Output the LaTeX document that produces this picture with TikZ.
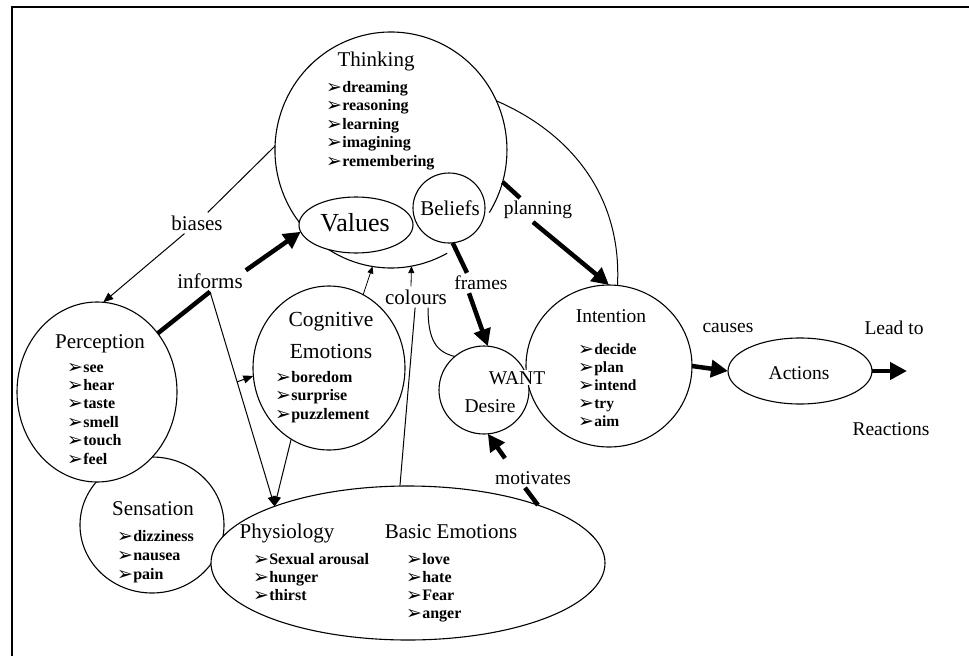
\documentclass[tikz,border=0pt]{standalone}
\usepackage{fontspec}
\setmainfont{Liberation Serif}
\newfontfamily\symfont{DejaVu Sans}
\usetikzlibrary{shapes.geometric,arrows.meta,calc}
\newcommand{\bl}{\smash{\raisebox{-1pt}{\symfont\fontsize{19}{19}\selectfont ➢}}\kern0.2pt}
\newcommand{\blist}[1]{\begin{tabular}[t]{@{}l@{}}#1\end{tabular}}
\begin{document}
\begin{tikzpicture}[x=1pt,y=-1pt,
  ell/.style={draw, ellipse, inner sep=0pt, outer sep=0pt, line width=1.1pt},
  outline/.style={line width=1.1pt},
  head/.style={anchor=base, inner sep=0pt, font=\fontsize{21}{21}\selectfont},
  headr/.style={anchor=base, inner sep=0pt, font=\fontsize{19.5}{19.5}\selectfont},
  lab/.style={fill=white, inner sep=3pt, font=\fontsize{21}{21}\selectfont},
  labr/.style={fill=white, inner sep=3pt, font=\fontsize{19.5}{19.5}\selectfont},
  bullets/.style={anchor=base west, inner sep=0pt, font=\bfseries\fontsize{16}{18.5}\selectfont},
  thinline/.style={line width=1pt},
  thinarr/.style={line width=1pt, -{Triangle[length=10pt,width=8pt]}},
  smallarr/.style={line width=0.8pt, -{Triangle[length=7pt,width=6pt]}},
  boldline/.style={line width=4.5pt},
  boldarr/.style={line width=4.5pt, -{Triangle[length=17pt,width=17pt]}}
]
\useasboundingbox (0,0) rectangle (969,656);
% frame
\draw[line width=1.8pt] (12,656) -- (12,7) -- (969,7);

% ellipses
\node[ell, minimum width=144, minimum height=136] (sens) at (152,525) {};
\node[ell, fill=white, minimum width=394, minimum height=154] (phys) at (408,563) {};
\node[ell, fill=white, minimum width=160, minimum height=180] (perc) at (97,392) {};
\node[ell, minimum width=152, minimum height=164] (cog) at (329,368) {};
\node[ellipse, inner sep=0pt, outer sep=0pt, minimum width=232, minimum height=236] (think) at (391,150) {};
\draw[outline] (think.center) ++(56.2,103.2) arc[start angle=61, end angle=392, x radius=116, y radius=118];
\node[ell, fill=white, minimum width=114, minimum height=56] (values) at (356,225) {};
\node[ell, fill=white, minimum width=72, minimum height=70] (beliefs) at (449,208) {};
\node[ell, minimum width=90, minimum height=88] (want) at (484,390) {};
\node[ell, fill=white, minimum width=166, minimum height=162] (intent) at (609,366) {};
\node[ell, minimum width=144, minimum height=66] (actions) at (800,371) {};

% texts inside shapes
\node[head] (tthink) at (376,66) {Thinking};
\node[bullets] (lthink) at (326,92) {\blist{\bl dreaming\\ \bl reasoning\\ \bl learning\\ \bl imagining\\ \bl remembering}};
\node[anchor=base, inner sep=0pt, font=\fontsize{26}{26}\selectfont] (tvalues) at (355,231) {Values};
\node[head] (tbeliefs) at (450,215) {Beliefs};
\node[head] (tperc) at (100,348) {Perception};
\node[bullets, font=\bfseries\fontsize{16}{18.4}\selectfont] (lperc) at (67,372) {\blist{\bl see\\ \bl hear\\ \bl taste\\ \bl smell\\ \bl touch\\ \bl feel}};
\node[head] (tsens) at (153,515) {Sensation};
\node[bullets, font=\bfseries\fontsize{16}{19}\selectfont] (lsens) at (117,541) {\blist{\bl dizziness\\ \bl nausea\\ \bl pain}};
\node[head, font=\fontsize{21.5}{21.5}\selectfont] (tcog1) at (331,326) {Cognitive};
\node[head, font=\fontsize{21.5}{21.5}\selectfont] (tcog2) at (331,358) {Emotions};
\node[bullets] (lcog) at (275,382) {\blist{\bl boredom\\ \bl surprise\\ \bl puzzlement}};
\node[head] (tphys) at (287,538) {Physiology};
\node[bullets, font=\bfseries\fontsize{16}{18}\selectfont] (lphys) at (253,564) {\blist{\bl Sexual arousal\\ \bl hunger\\ \bl thirst}};
\node[head] (tbasic) at (451,538) {Basic Emotions};
\node[bullets, font=\bfseries\fontsize{16}{18}\selectfont] (lbasic) at (406,564) {\blist{\bl love\\ \bl hate\\ \bl Fear\\ \bl anger}};
\node[headr, fill=white, inner sep=1pt] (twant) at (517,384) {WANT};
\node[headr] (tdesire) at (490,412) {Desire};
\node[headr] (tintent) at (611,322) {Intention};
\node[bullets, font=\bfseries\fontsize{15.5}{18.2}\selectfont] (lintent) at (578,354) {\blist{\bl decide\\ \bl plan\\ \bl intend\\ \bl try\\ \bl aim}};
\node[headr] (tactions) at (799,379) {Actions};

% labels
\node[lab] (biases) at (197,223) {biases};
\node[lab] (informs) at (210,281) {informs};
\node[lab] (colours) at (416,297) {colours};
\node[labr] (frames) at (481,283) {frames};
\node[labr] (planning) at (538,210) {planning};
\node[labr] (motivates) at (533,478) {motivates};
\node[labr] (causes) at (728,328) {causes};
\node[labr] (leadto) at (894,328) {Lead to};
\node[labr] (reactions) at (891,429) {Reactions};
\coordinate (leadtip) at (907,371);

% connectors
\draw[thinline] (think.178) -- (biases);
\draw[thinarr] (biases) -- (perc.86);
\draw[boldline] (perc.44) -- (informs.south);
\draw[boldarr] (informs.north east) -- (values.187);
\draw[thinarr] (informs.south) -- (phys.157);
\coordinate (B) at ($(informs.south)!0.42!(phys.157)$);
\draw[thinarr] (B) -- (cog.186);
\draw[thinarr] (cog.242) -- (phys.157);
\draw[smallarr] (cog.65) -- (think.261);
\draw[smallarr] ([xshift=-5pt]colours.north) -- (think.280);
\draw[thinline] (colours) -- (phys.96);
\draw[thinline] ([xshift=12pt]colours.south) .. controls (428,340) and (436,352) .. (want.131);
\draw[boldline] (beliefs.276) -- ([xshift=-14pt]frames.north);
\draw[boldarr] ([xshift=-12pt]frames.south) -- (want.85);
\draw[boldline] (think.344) -- ([xshift=-18pt]planning.north);
\draw[boldarr] ([xshift=-5pt]planning.south) -- (intent.90);
\draw[thinline] (think.25) .. controls (575,135) and (622,200) .. (intent.84);
\draw[boldarr] (intent.0) -- (actions.180);
\draw[boldarr] (actions.0) -- (leadtip);
\draw[boldline] (phys.24) -- ([xshift=-8pt]motivates.south);
\draw[boldarr] ($(motivates.north)+(-28,-10)$) -- (want.275);
\end{tikzpicture}
\end{document}
